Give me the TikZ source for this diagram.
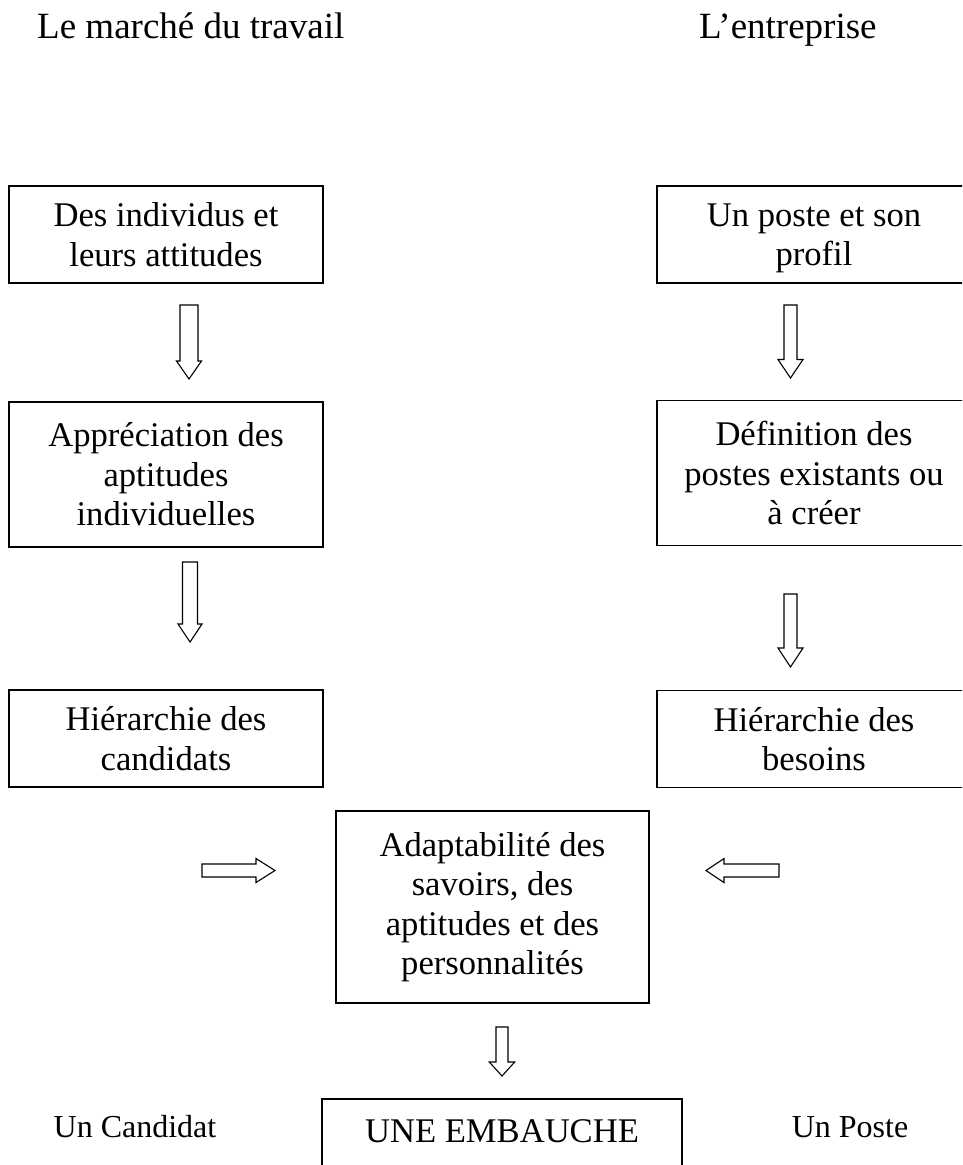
\documentclass[tikz,border=0pt]{standalone}
\usepackage{fontspec}
\setmainfont{Liberation Serif}
\usetikzlibrary{calc}
\tikzset{
  box/.style={draw, line width=1.5pt, align=center, inner sep=0pt, font=\fontsize{34.6}{39.5}\selectfont},
  titletext/.style={anchor=base west, inner sep=0pt, font=\fontsize{37}{42}\selectfont},
  sidetext/.style={anchor=base, inner sep=0pt, font=\fontsize{32}{36}\selectfont},
  blockarrow/.style={draw, line width=1.1pt, line join=miter, fill=white},
}
% #1 start, #2 tip, #3 half shaft width, #4 half head width, #5 head length
\newcommand\blockarrow[5]{%
  \path ($(#2)!#5!(#1)$) coordinate (bahead);
  \draw[blockarrow] ($(#1)!#3!90:(#2)$) -- ($(bahead)!#3!90:(#2)$) -- ($(bahead)!#4!90:(#2)$) -- (#2)
     -- ($(bahead)!#4!-90:(#2)$) -- ($(bahead)!#3!-90:(#2)$) -- ($(#1)!#3!-90:(#2)$) -- cycle;
}
\newcommand\nodepth[1]{\raisebox{0pt}[\height][0pt]{#1}}
\begin{document}
\begin{tikzpicture}[x=1pt,y=1pt]
\path[use as bounding box] (0,0) rectangle (962,-1165);
\clip (0,0) rectangle (962,-1165);

% titles
\node[titletext] (t1) at (37,-38) {Le marché du travail};
\node[titletext] (t2) at (699,-38) {L’entreprise};

% left column
\node[box, minimum width=314pt, minimum height=97pt] (l1) at (166,-234.5) {Des individus et\\leurs attitudes};
\node[box, minimum width=314pt, minimum height=145pt] (l2) at (166,-474.5) {Appréciation des\\aptitudes\\individuelles};
\node[box, minimum width=314pt, minimum height=97pt] (l3) at (166,-738.5) {Hiérarchie des\\candidats};

% right column
\node[box, minimum width=314pt, minimum height=97pt] (r1) at (814,-234.5) {Un poste et son\\\nodepth{profil}};
\node[box, minimum width=314pt, minimum height=145pt] (r2) at (814,-473) {Définition des\\postes existants ou\\à créer};
\node[box, minimum width=314pt, minimum height=97pt] (r3) at (814,-739) {Hiérarchie des\\besoins};

% centre
\node[box, minimum width=313pt, minimum height=192pt] (c) at (492.5,-907) {Adaptabilité des\\savoirs, des\\aptitudes et des\\personnalités};
\node[box, anchor=base, text height=43pt, text depth=45pt, minimum width=360pt] (emb) at (502,-1142) {UNE EMBAUCHE};

% side labels
\node[sidetext] (uc) at (135,-1137) {Un Candidat};
\node[sidetext] (up) at (850,-1137) {Un Poste};

% arrow end points
\coordinate (la1s) at (189,-305);   \coordinate (la1e) at (189,-379);
\coordinate (la2s) at (190,-562);   \coordinate (la2e) at (190,-642);
\coordinate (ra1s) at (790.5,-305); \coordinate (ra1e) at (790.5,-378);
\coordinate (ra2s) at (790.5,-594); \coordinate (ra2e) at (790.5,-667);
\coordinate (hls) at (202,-870.5);  \coordinate (hle) at (275,-870.5);
\coordinate (hrs) at (779,-870.5);  \coordinate (hre) at (706,-870.5);
\coordinate (cds) at (502,-1027);   \coordinate (cde) at (502,-1076);

\blockarrow{la1s}{la1e}{9pt}{12.5pt}{18pt}
\blockarrow{la2s}{la2e}{7.5pt}{12pt}{18pt}
\blockarrow{ra1s}{ra1e}{6.5pt}{12.5pt}{18.5pt}
\blockarrow{ra2s}{ra2e}{6.5pt}{12.5pt}{19pt}
\blockarrow{hls}{hle}{6.5pt}{12pt}{19pt}
\blockarrow{hrs}{hre}{6.5pt}{12pt}{18pt}
\blockarrow{cds}{cde}{6pt}{12.7pt}{14pt}
\end{tikzpicture}
\end{document}
